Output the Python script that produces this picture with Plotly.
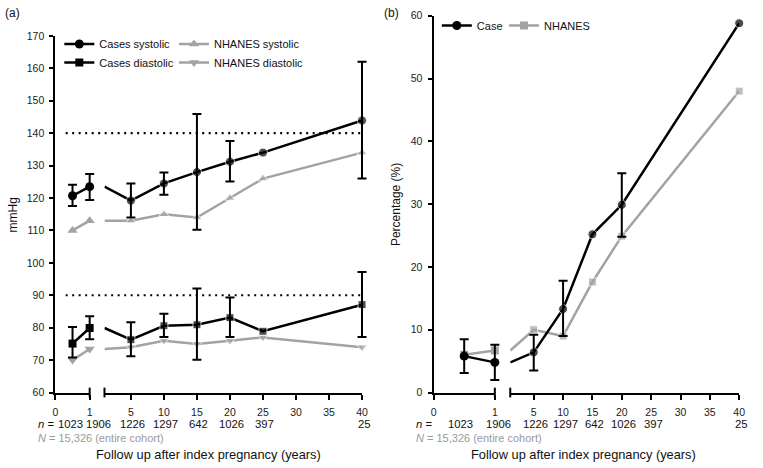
import plotly.graph_objects as go

# ---------------- data ----------------
years = [0.5, 1, 5, 10, 15, 20, 25, 40]

cases_sys = [120.7, 123.5, 119.2, 124.5, 128.0, 131.2, 134.0, 143.9]
cases_sys_hi = [124.1, 127.4, 124.5, 127.9, 145.9, 137.6, None, 162.0]
cases_sys_lo = [117.5, 119.4, 114.0, 121.0, 110.2, 125.1, None, 126.0]

cases_dia = [75.1, 79.9, 76.3, 80.6, 80.9, 83.1, 78.9, 87.1]
cases_dia_hi = [80.2, 83.5, 81.7, 84.3, 92.1, 89.3, None, 97.2]
cases_dia_lo = [70.8, 76.4, 71.2, 77.1, 70.1, 77.1, None, 77.1]

nhanes_sys = [110, 113, 113, 115, 114, 120, 126, 134]
nhanes_dia = [70, 73.4, 74, 76, 75, 76, 77, 74]

thresholds = [140, 90]

years_b = [0.5, 1, 5, 10, 15, 20, 40]
case_pct = [5.8, 4.8, 6.4, 13.3, 25.2, 29.9, 58.8]
case_pct_hi = [8.5, 7.6, 9.2, 17.8, None, 34.9, None]
case_pct_lo = [3.1, 2.0, 3.5, 9.0, None, 24.8, None]
nhanes_pct = [6.0, 6.7, 10.0, 9.0, 17.6, 24.9, 48.0]

tick_first = [0, 1]
tick_second = [5, 10, 15, 20, 25, 30, 35, 40]
n_years = [0.5, 1, 5, 10, 15, 20, 25, 40]
n_labels = ["1023", "1906", "1226", "1297", "642", "1026", "397", "25"]

# ---------------- layout helpers ----------------
W, H = 763, 468
def px(x):
    return x / W
def py(y):
    return 1 - y / H

BLACK = "#000000"
GRAY = "#a3a3a3"
FONT = "Liberation Sans, Arial, sans-serif"

dom = {
    "x": [px(53), px(87.7)],
    "x2": [px(102.7), px(363.3)],
    "x3": [px(435.7), px(497.7)],
    "x4": [px(513.3), px(745)],
}
rng = {"x": [0, 1], "x2": [1, 40], "x3": [0, 1], "x4": [1, 40]}

def to_paper(ax, v):
    d, r = dom[ax], rng[ax]
    return d[0] + (v - r[0]) / (r[1] - r[0]) * (d[1] - d[0])

# padded (invisible) twins of each segment axis, same scale, used for error bars
PAD = 14 / W
pad_of = {"x": "x5", "x2": "x6", "x3": "x7", "x4": "x8"}
pad_axes = {}
for ax, pax in pad_of.items():
    d, r = dom[ax], rng[ax]
    k = (r[1] - r[0]) / (d[1] - d[0])
    pad_axes[pax] = dict(domain=[d[0] - PAD, d[1] + PAD],
                         range=[r[0] - PAD * k, r[1] + PAD * k])

fig = go.Figure()

def split(xs, ys, first):
    pts = [(a, b) for a, b in zip(xs, ys) if (a <= 1 if first else a >= 1)]
    return [p[0] for p in pts], [p[1] for p in pts]

def add_series(xs, ys, hi, lo, xa1, xa2, ya, color, symbol, size, name, legend):
    if hi is not None:
        for xa, first in ((xa1, True), (xa2, False)):
            ex, ey, ep, em = [], [], [], []
            for a, b, h, l in zip(xs, ys, hi, lo):
                if h is None:
                    continue
                if first and a > 1:
                    continue
                if (not first) and a <= 1:
                    continue
                ex.append(a); ey.append(b); ep.append(h - b); em.append(b - l)
            fig.add_trace(go.Scatter(
                x=ex, y=ey, xaxis=pad_of[xa], yaxis=ya, mode="markers",
                marker=dict(size=1, opacity=0), showlegend=False, hoverinfo="skip",
                error_y=dict(type="data", symmetric=False, array=ep, arrayminus=em,
                             color=color, thickness=2, width=4.5)))
    x1s, y1s = split(xs, ys, True)
    fig.add_trace(go.Scatter(
        x=x1s, y=y1s, xaxis=xa1, yaxis=ya, mode="lines+markers", name=name,
        line=dict(color=color, width=2.5),
        marker=dict(color=color, symbol=symbol, size=size),
        cliponaxis=False, legend=legend, showlegend=True))
    x2s, y2s = split(xs, ys, False)
    fig.add_trace(go.Scatter(
        x=x2s, y=y2s, xaxis=xa2, yaxis=ya, mode="lines+markers",
        line=dict(color=color, width=2.5),
        marker=dict(color=color, symbol=symbol, size=[0] + [size] * (len(x2s) - 1)),
        cliponaxis=False, showlegend=False))

add_series(years, nhanes_sys, None, None, "x", "x2", "y", GRAY, "triangle-up", 9,
           "NHANES systolic", "legend3")
add_series(years, nhanes_dia, None, None, "x", "x2", "y", GRAY, "triangle-down", 9,
           "NHANES diastolic", "legend4")
add_series(years, cases_sys, cases_sys_hi, cases_sys_lo, "x", "x2", "y", BLACK, "circle", 9,
           "Cases systolic", "legend")
add_series(years, cases_dia, cases_dia_hi, cases_dia_lo, "x", "x2", "y", BLACK, "square", 8,
           "Cases diastolic", "legend2")
add_series(years_b, nhanes_pct, None, None, "x3", "x4", "y2", GRAY, "square", 8,
           "NHANES", "legend6")
add_series(years_b, case_pct, case_pct_hi, case_pct_lo, "x3", "x4", "y2", BLACK, "circle", 9,
           "Case", "legend5")

tickfont = dict(family=FONT, size=10.5, color="#222")
xcommon = dict(showline=True, linecolor=BLACK, linewidth=2, ticks="outside", ticklen=5,
               tickwidth=2, tickcolor=BLACK, showgrid=False, zeroline=False,
               tickfont=tickfont, tickmode="array", fixedrange=True, ticklabelstandoff=4)
ycommon = dict(showline=True, linecolor=BLACK, linewidth=2, ticks="outside", ticklen=4,
               tickwidth=2, tickcolor=BLACK, showgrid=False, zeroline=False,
               tickfont=tickfont, ticklabelstandoff=3, fixedrange=True)

lay = dict(
    xaxis=dict(domain=dom["x"], range=rng["x"], tickvals=tick_first, anchor="y", **xcommon),
    xaxis2=dict(domain=dom["x2"], range=rng["x2"], tickvals=tick_second, anchor="y", **xcommon),
    xaxis3=dict(domain=dom["x3"], range=rng["x3"], tickvals=tick_first, anchor="y2", **xcommon),
    xaxis4=dict(domain=dom["x4"], range=rng["x4"], tickvals=tick_second, anchor="y2", **xcommon),
    yaxis=dict(domain=[py(396.7), py(30.7)], range=[60, 170], dtick=10, anchor="x", **ycommon),
    yaxis2=dict(domain=[py(396.7), py(10)], range=[0, 60], dtick=10, anchor="x3", **ycommon),
)
for pax, spec in pad_axes.items():
    lay["xaxis" + pax[1:]] = dict(spec, visible=False, anchor="y" if pax in ("x5", "x6") else "y2",
                                  showgrid=False, zeroline=False, fixedrange=True)
fig.update_layout(**lay)

shapes = []
for ax, side in (("x", 1), ("x2", 0), ("x3", 1), ("x4", 0)):
    shapes.append(dict(type="line", xref=ax + " domain", yref="paper", x0=side, x1=side,
                       y0=py(396.7) - 5 / H, y1=py(396.7) + 5 / H,
                       line=dict(color=BLACK, width=2)))
for t in thresholds:
    shapes.append(dict(type="line", xref="paper", yref="y", x0=to_paper("x", 0.3),
                       x1=to_paper("x2", 40), y0=t, y1=t,
                       line=dict(color=BLACK, width=2.2, dash="2px,4.5px")))
fig.update_layout(shapes=shapes)

leg_font = dict(family=FONT, size=11, color="#111")
def leg(x, y):
    return dict(x=px(x), y=py(y), xanchor="left", yanchor="middle", bgcolor="rgba(0,0,0,0)",
                font=leg_font, borderwidth=0, itemwidth=30, tracegroupgap=0)
fig.update_layout(
    legend=leg(57, 39), legend2=leg(57, 58), legend3=leg(173, 39), legend4=leg(173, 58),
    legend5=leg(439, 20), legend6=leg(507, 20),
)

ann = []
small = dict(family=FONT, size=11.3, color="#111")
for ax in ("x", "x3"):
    ann.append(dict(text="<i>n</i> =", xref="paper", yref="paper",
                    x=to_paper(ax, 0) - 20 / W, y=py(429.5), showarrow=False,
                    xanchor="left", yanchor="middle", font=small))
    ann.append(dict(text="<i>N</i> = 15,326 (entire cohort)", xref="paper", yref="paper",
                    x=to_paper(ax, 0) - 20 / W, y=py(443), showarrow=False,
                    xanchor="left", yanchor="middle",
                    font=dict(family=FONT, size=11, color="#9a9a9a")))
shift_a = {0.5: -2, 1: 9}
shift_b = {0.5: -4, 1: 4}
for yr, lab in zip(n_years, n_labels):
    for a1, a2, sh in (("x", "x2", shift_a), ("x3", "x4", shift_b)):
        ax = a1 if yr <= 1 else a2
        ann.append(dict(text=lab, xref="paper", yref="paper", x=to_paper(ax, yr),
                        y=py(429.5), showarrow=False, xanchor="center", yanchor="middle",
                        xshift=sh.get(yr, 2), font=small))
def txt(text, x, y, angle=0, anchor="center", size=12.8):
    return dict(text=text, xref="paper", yref="paper", x=px(x), y=py(y), showarrow=False,
                xanchor=anchor, yanchor="middle", textangle=angle,
                font=dict(family=FONT, size=size, color="#111"))
ann.append(txt("Follow up after index pregnancy (years)", 208, 460))
ann.append(txt("Follow up after index pregnancy (years)", 587, 460))
ann.append(txt("mmHg", 10, 214, -90, size=12))
ann.append(txt("Percentage (%)", 397, 204, -90, size=12))
ann.append(txt("(a)", 0, 7, 0, "left", size=12))
ann.append(txt("(b)", 384, 7, 0, "left", size=12))
fig.update_layout(annotations=ann)

fig.update_layout(width=W, height=H, margin=dict(l=0, r=0, t=0, b=0),
                  paper_bgcolor="white", plot_bgcolor="rgba(0,0,0,0)", showlegend=True,
                  font=dict(family=FONT), hovermode=False)
fig.write_html("out.html", config={"displayModeBar": False, "staticPlot": True},
               post_script="document.body.style.margin='0';document.body.style.overflow='hidden';")
